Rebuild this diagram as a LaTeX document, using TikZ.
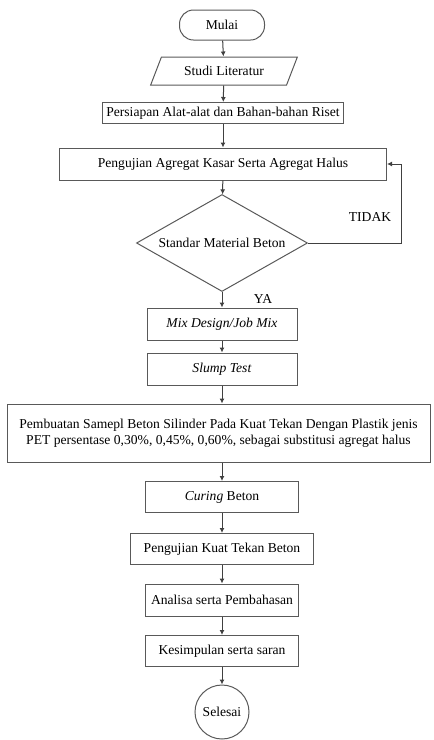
\documentclass[tikz,border=0pt]{standalone}
\usepackage{fontspec}
\setmainfont{Liberation Serif}
\usetikzlibrary{shapes.geometric,arrows.meta}
\tikzset{
    kotak/.style={draw=black!65, line width=1pt, minimum height=32pt, inner sep=2pt, align=center},
    arr/.style={draw=black!75, line width=1pt, -{Latex[length=5pt,width=5pt]}},
    garis/.style={draw=black!65, line width=1pt}
}
\begin{document}
\begin{tikzpicture}[x=1pt, y=-1pt, font=\fontsize{13.6}{16}\selectfont]
    \useasboundingbox (0,0) rectangle (434,740);
    % Start
    \node[kotak, rounded corners=14pt, minimum width=85pt, minimum height=30pt] (mulai) at (222,25) {Mulai};
    \node[kotak, trapezium, trapezium left angle=62, trapezium right angle=118, trapezium stretches=true, minimum width=148pt, minimum height=28pt] (studi) at (224,71) {Studi Literatur};
    \node[kotak, minimum width=241pt, minimum height=21pt] (alat) at (223,113) {Persiapan Alat-alat dan Bahan-bahan Riset};
    \node[kotak, minimum width=327pt] (uji) at (223,164) {Pengujian Agregat Kasar Serta Agregat Halus};
    % Decision
    \node[kotak, diamond, aspect=1.76, minimum width=171pt, minimum height=97pt, inner sep=0pt] (cek) at (222,243) {Standar Material Beton};
    \node (tidak) at (370,217) {TIDAK};
    \node (ya) at (263,299) {YA};
    % Process
    \node[kotak, minimum width=150pt] (mix) at (222,324) {\textit{Mix Design/Job Mix}};
    \node[kotak, minimum width=150pt] (slump) at (222,369) {\textit{Slump Test}};
    \node[kotak, minimum width=423pt, minimum height=58pt] (sampel) at (218.5,433) {Pembuatan Samepl Beton Silinder Pada Kuat Tekan Dengan Plastik jenis\\PET persentase 0,30\%, 0,45\%, 0,60\%, sebagai substitusi agregat halus};
    \node[kotak, minimum width=153pt, minimum height=31pt] (curing) at (222,497) {\textit{Curing} Beton};
    \node[kotak, minimum width=183pt, minimum height=31pt] (tekan) at (222,549) {Pengujian Kuat Tekan Beton};
    \node[kotak, minimum width=153pt] (analisa) at (222,600) {Analisa serta Pembahasan};
    \node[kotak, minimum width=153pt, minimum height=31pt] (simpul) at (222,651) {Kesimpulan serta saran};
    % End
    \node[kotak, circle, minimum size=54pt, inner sep=0pt] (selesai) at (222,712) {Selesai};
    % Arrows
    \draw[arr] (mulai) -- (studi);
    \draw[arr] (studi) -- (alat);
    \draw[arr] (alat) -- (uji);
    \draw[arr] (uji) -- (cek);
    \draw[arr] (cek.east) -- ++(93,0) |- (uji.east);
    \draw[arr] (cek) -- (mix);
    \draw[arr] (mix) -- (slump);
    \draw[arr] (slump) -- (slump |- sampel.north);
    \draw[arr] (sampel.south -| curing) -- (curing);
    \draw[arr] (curing) -- (tekan);
    \draw[arr] (tekan) -- (analisa);
    \draw[arr] (analisa) -- (simpul);
    \draw[arr] (simpul) -- (selesai);
\end{tikzpicture}
\end{document}
